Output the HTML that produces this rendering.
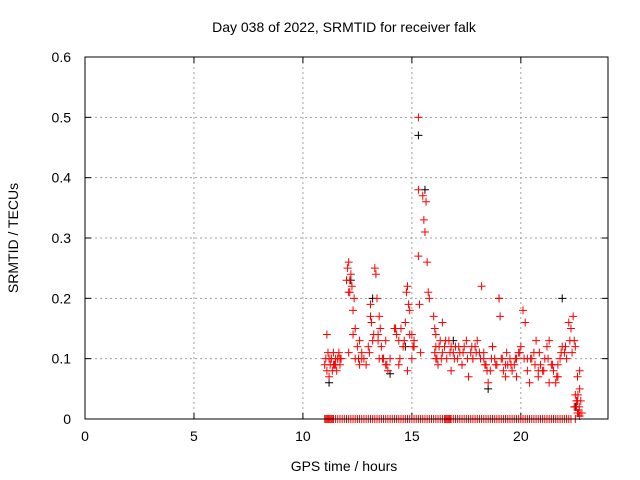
<!DOCTYPE html>
<html><head><meta charset="utf-8"><style>
body{margin:0;background:#fff;}
svg{display:block;font-family:"Liberation Sans",sans-serif;}
</style></head><body>
<svg id="chart" width="640" height="480">
<rect width="640" height="480" fill="#fff"/>
<text x="344" y="32" font-size="14" text-anchor="middle">Day 038 of 2022, SRMTID for receiver falk</text>
<text x="344" y="471" font-size="14" text-anchor="middle">GPS time / hours</text>
<text x="18" y="238" font-size="14" text-anchor="middle" transform="rotate(-90 18 238)">SRMTID / TECUs</text>
<g id="grid"></g><g id="ticks"></g><g id="marks"></g>
<rect x="85" y="57" width="523" height="362" fill="none" stroke="#000" stroke-width="1"/>
</svg>
<script>
const xTicks=[0,5,10,15,20];
const yTicks=[0,0.1,0.2,0.3,0.4,0.5,0.6];
const yTickLabels=["0","0.1","0.2","0.3","0.4","0.5","0.6"];
const redHours=[11.0,11.05,11.1,11.15,11.2,11.25,11.3,11.35,11.4,11.45,11.5,11.55,11.6,11.65,11.7,11.75,12.0,12.05,12.1,12.15,12.2,12.25,12.3,12.35,12.4,12.5,12.55,12.6,12.7,12.8,12.9,13.0,13.1,13.15,13.2,13.3,13.35,13.4,13.45,13.5,13.55,13.6,13.7,13.8,13.9,14.0,14.2,14.3,14.4,14.5,14.6,14.7,14.75,14.8,14.85,14.9,15.0,15.05,15.1,15.3,15.3,15.3,15.35,15.4,15.5,15.55,15.6,15.65,15.7,15.75,15.8,16.0,16.05,16.1,16.15,16.2,16.3,16.4,16.5,16.6,16.7,16.8,16.9,17.0,17.1,17.2,17.3,17.4,17.5,17.6,17.7,17.8,17.9,18.0,18.1,18.2,18.3,18.4,18.5,18.6,18.7,18.8,18.9,19.0,19.05,19.1,19.2,19.3,19.4,19.5,19.6,19.7,19.8,19.9,20.0,20.1,20.2,20.3,20.4,20.5,20.6,20.7,20.8,20.9,21.0,21.1,21.2,21.3,21.4,21.5,21.6,21.7,21.8,21.9,22.0,22.1,22.2,22.3,22.4,22.45,22.5,22.55,22.6,22.65,22.7,22.75,22.8,11.1,11.3,11.5,11.7,12.1,12.4,12.6,13.1,13.5,13.8,14.4,14.8,15.0,16.1,16.4,16.8,17.3,17.8,18.3,18.7,19.3,19.8,20.3,20.8,21.3,21.7,22.5,22.6,22.7,22.55,22.65,22.5,22.6,22.7,
11.2,11.4,11.6,12.1,12.15,12.3,12.7,13.05,13.25,13.45,13.65,13.85,14.25,14.45,14.65,14.9,15.1,16.05,16.1,16.25,16.35,16.55,16.75,16.95,17.15,17.35,17.55,17.75,17.95,18.15,18.35,18.45,18.65,18.85,19.15,19.35,19.55,19.75,19.95,20.15,20.45,20.65,20.85,21.05,21.25,21.45,21.65,21.85,22.05,22.25,22.35,22.45,22.55,22.62,22.68,22.72];
const redValues=[0.09,0.1,0.08,0.11,0.07,0.09,0.1,0.08,0.11,0.09,0.1,0.08,0.1,0.11,0.09,0.1,0.23,0.25,0.26,0.21,0.24,0.22,0.18,0.2,0.15,0.12,0.1,0.09,0.11,0.1,0.09,0.12,0.17,0.16,0.13,0.25,0.24,0.2,0.14,0.17,0.15,0.12,0.1,0.09,0.08,0.1,0.15,0.14,0.13,0.15,0.12,0.16,0.21,0.22,0.19,0.18,0.14,0.12,0.13,0.5,0.38,0.27,0.19,0.11,0.37,0.33,0.31,0.36,0.26,0.21,0.2,0.17,0.15,0.12,0.1,0.09,0.13,0.11,0.12,0.1,0.13,0.08,0.11,0.12,0.1,0.11,0.09,0.12,0.13,0.07,0.11,0.1,0.12,0.13,0.11,0.22,0.1,0.09,0.06,0.08,0.12,0.1,0.09,0.2,0.17,0.1,0.08,0.07,0.09,0.1,0.08,0.09,0.1,0.11,0.12,0.18,0.16,0.08,0.06,0.1,0.11,0.13,0.07,0.09,0.08,0.1,0.12,0.13,0.09,0.08,0.06,0.07,0.1,0.12,0.11,0.1,0.16,0.15,0.17,0.13,0.04,0.02,0.03,0.01,0.05,0.03,0.01,0.14,0.1,0.09,0.1,0.11,0.1,0.13,0.19,0.1,0.13,0.09,0.08,0.1,0.14,0.16,0.12,0.09,0.1,0.11,0.12,0.09,0.07,0.1,0.08,0.06,0.09,0.12,0.07,0.08,0.02,0.01,0.0,0.01,0.005,
0.1,0.09,0.1,0.21,0.23,0.14,0.1,0.11,0.14,0.13,0.1,0.09,0.15,0.1,0.13,0.14,0.12,0.11,0.1,0.12,0.1,0.13,0.11,0.1,0.12,0.11,0.1,0.12,0.11,0.1,0.09,0.08,0.1,0.09,0.1,0.11,0.09,0.1,0.11,0.1,0.1,0.09,0.11,0.08,0.1,0.09,0.07,0.11,0.12,0.13,0.11,0.02,0.03,0.04,0.02,0.01];
const blackHours=[11.2,12.2,13.2,14.0,15.3,15.6,18.5,19.0,21.9,22.5,22.6,16.9,14.7];
const blackValues=[0.06,0.23,0.2,0.075,0.47,0.38,0.05,0.2,0.2,0.02,0.03,0.13,0.12];
const zeroHours=[11.0,11.05,11.1,11.15,11.2,11.25,11.3,11.35,11.4,11.5,11.6,11.7,11.8,11.9,12.0,12.1,12.2,12.3,12.4,12.5,12.6,12.7,12.8,12.9,13.0,13.1,13.2,13.3,13.4,13.5,13.6,13.7,13.8,13.9,14.0,14.1,14.2,14.3,14.4,14.5,14.6,14.7,14.8,14.9,15.0,15.1,15.2,15.3,15.4,15.5,15.6,15.7,15.8,15.9,16.0,16.1,16.2,16.3,16.4,16.5,16.55,16.6,16.65,16.7,16.75,16.8,16.9,17.0,17.1,17.2,17.3,17.4,17.5,17.6,17.7,17.8,17.9,18.0,18.1,18.2,18.3,18.4,18.5,18.6,18.7,18.8,18.9,19.0,19.1,19.2,19.3,19.4,19.5,19.6,19.7,19.8,19.9,20.0,20.1,20.2,20.3,20.4,20.5,20.6,20.7,20.8,20.9,21.0,21.1,21.2,21.3,21.4,21.5,21.6,21.7,21.8,21.9,22.0,22.1,22.2,22.3];
const X0=85,X1=608,Y0=419,Y1=57,XMAX=24,YMAX=0.6;
const sx=v=>X0+(X1-X0)*v/XMAX, sy=v=>Y0-(Y0-Y1)*v/YMAX;
const NS="http://www.w3.org/2000/svg";
function mk(t,a,p){const e=document.createElementNS(NS,t);for(const k in a)e.setAttribute(k,a[k]);p.appendChild(e);return e;}
const grid=document.getElementById('grid'),ticks=document.getElementById('ticks'),marks=document.getElementById('marks');
xTicks.forEach(v=>{const x=sx(v);
 if(v>0){const g=mk('line',{x1:x,x2:x,y1:Y0,y2:Y1,stroke:'#a0a0a0','stroke-dasharray':'2,3'},grid);
 
 }
 mk('line',{x1:x,x2:x,y1:Y0,y2:Y0-6,stroke:'#000'},ticks);mk('line',{x1:x,x2:x,y1:Y1,y2:Y1+6,stroke:'#000'},ticks);
 const t=mk('text',{x:x,y:Y0+22,'font-size':14,'text-anchor':'middle'},ticks);t.textContent=v;
 
 });
yTicks.forEach((v,i)=>{const y=sy(v);
 if(v>0&&v<0.6){const g=mk('line',{x1:X0,x2:X1,y1:y,y2:y,stroke:'#a0a0a0','stroke-dasharray':'2,3'},grid);
 
 }
 mk('line',{x1:X0,x2:X0+6,y1:y,y2:y,stroke:'#000'},ticks);mk('line',{x1:X1,x2:X1-6,y1:y,y2:y,stroke:'#000'},ticks);
 const t=mk('text',{x:X0-14,y:y+5,'font-size':14,'text-anchor':'end'},ticks);t.textContent=yTickLabels[i];
 
 });
function plus(x,y,c,name){const p=mk('path',{d:`M${x-4} ${y}h8M${x} ${y-4}v8`,stroke:c,'stroke-width':1,fill:'none'},marks);
 
 }
blackHours.forEach((h,i)=>plus(sx(h),sy(blackValues[i]),'#000','black-point'));
redHours.forEach((h,i)=>plus(sx(h),sy(redValues[i]),'#f00','red-point'));
zeroHours.forEach(h=>plus(sx(h),sy(0),'#f00','zero-point'));
</script>
</body></html>
